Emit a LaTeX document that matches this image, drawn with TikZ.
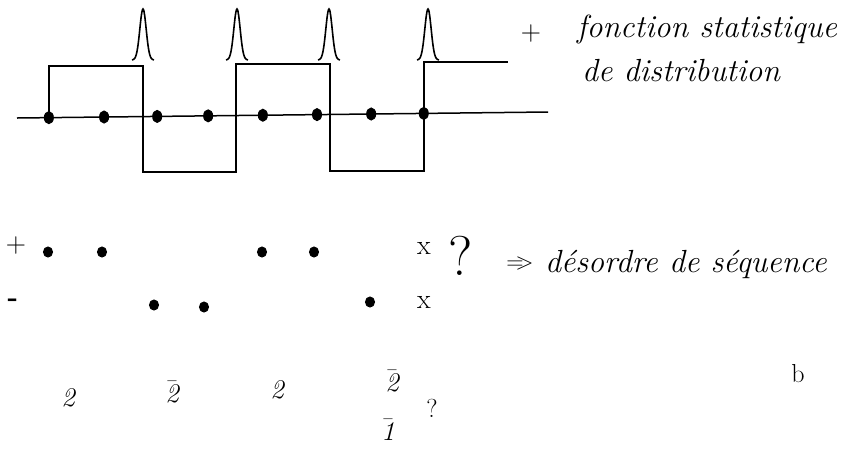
\documentclass[tikz,border=0pt]{standalone}
\usepackage{fix-cm}
\usepackage{fontspec}
\usepackage{tikz}
\usetikzlibrary{calc}
\usetikzlibrary{shapes.geometric}

\begin{document}
\begin{tikzpicture}[x=1pt,y=-1pt,line width=1.5pt,every node/.style={inner sep=0pt,outer sep=0pt}]

\tikzstyle{hand}=[font=\itshape\fontsize{32}{36}\selectfont,anchor=base west]
\tikzstyle{sign}=[font=\fontsize{28}{32}\selectfont]
\tikzstyle{digit}=[font=\itshape\fontsize{27}{31}\selectfont]
\tikzstyle{qmark}=[font=\fontsize{56}{60}\selectfont]
\tikzstyle{axisdot}=[ellipse,fill,draw,line width=1pt,minimum width=9pt,minimum height=12pt]
\tikzstyle{dot}=[ellipse,fill,draw,line width=1pt,minimum width=9pt,minimum height=10pt]
\tikzstyle{peak}=[line width=1.6pt]

\useasboundingbox (0,0) rectangle (857,451);

% signal
\coordinate (axl) at (17,118);
\coordinate (axr) at (548,112);
\draw (axl) -- (axr);
\foreach \p [count=\i] in {0.060,0.164,0.264,0.360,0.463,0.565,0.667,0.766}
  \node[axisdot] (d\i) at ($(axl)!\p!(axr)$) {};
\draw (d1.center) |- (143,66) |- (236,172) |- (330,64) |- (424,171) |- (508,62);
\foreach \c in {143,237,329,428}
  \draw[peak] plot[domain=-11:11,samples=41,smooth] ({\c+\x},{60-51*exp(-(\x/4.5)^2)});

\node[sign] (plus1) at (531,34) {+};
\node[hand] (fonc) at (577,37) {fonction statistique};
\node[hand] (distr) at (582,81) {de distribution};

% sequence
\node[sign] (plus2) at (16,246) {+};
\node[sign] (minus) at (13,303) {\bfseries -};
\foreach \x/\y [count=\i] in {48/252,102/252,262/252,314/252,154/305,204/307,370/302}
  \node[dot] (s\i) at (\x,\y) {};
\node[sign] (x1) at (424,248) {x};
\node[sign] (x2) at (424,302) {x};
\node[qmark] (q1) at (461,256) {?};
\node[font=\fontsize{24}{28}\selectfont] (impl) at (520,264) {=\kern-0.35em>};
\node[hand] (desord) at (545,272) {désordre de séquence};

% numbers
\node[digit] (n1) at (68,398) {2};
\node[digit] (n2) at (172,392) {$\bar{\textit{2}}$};
\node[digit] (n3) at (277,390) {2};
\node[digit] (n4) at (392,381) {$\bar{\textit{2}}$};
\node[digit] (n5) at (388,430) {$\bar{\textit{1}}$};
\node[font=\fontsize{26}{30}\selectfont] (q2) at (432,408) {?};
\node[font=\fontsize{26}{30}\selectfont] (b) at (798,374) {b};

\end{tikzpicture}
\end{document}
